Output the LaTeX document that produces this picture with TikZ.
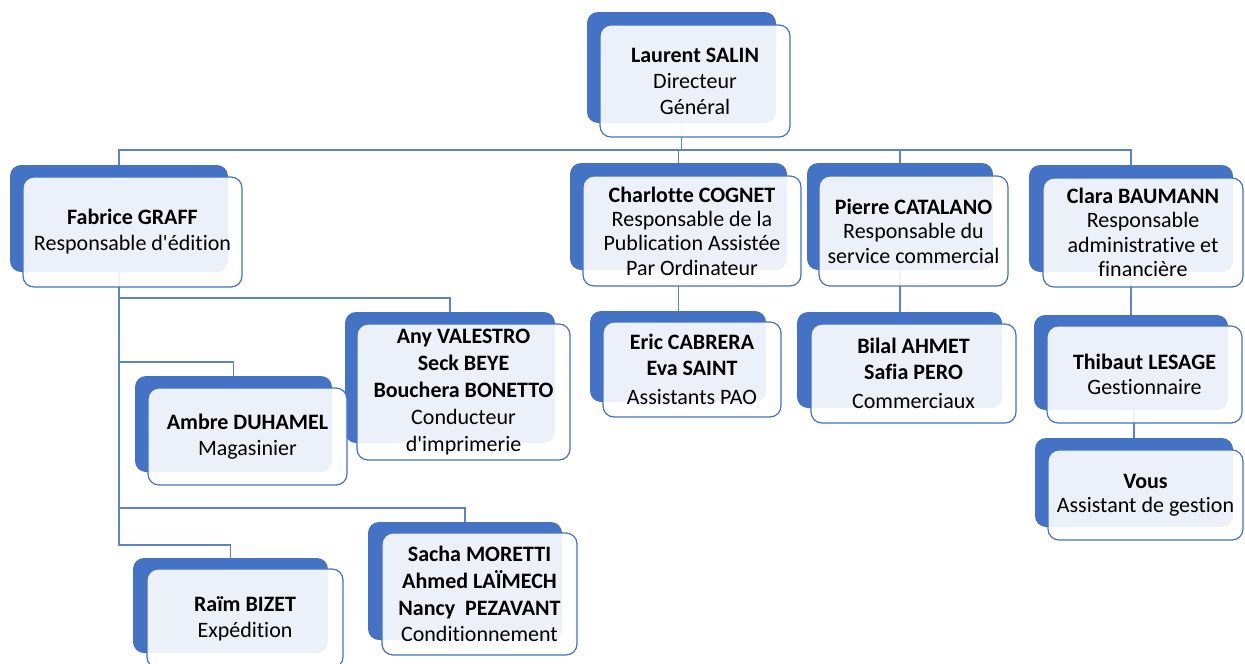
\documentclass[tikz,border=0pt]{standalone}
\usepackage{fontspec}
\newfontfamily\orgfont{Carlito}[Ligatures={NoCommon}]
\definecolor{orgblue}{HTML}{4472C4}
\definecolor{connblue}{HTML}{5B83CC}
\tikzset{
  backbox/.style={fill=orgblue, rounded corners=11pt, inner sep=0pt, outer sep=0pt},
  frontbox/.style={draw=orgblue, line width=1.2pt, fill=white, fill opacity=0.9, text opacity=1,
     rounded corners=11pt, inner sep=0pt, outer sep=0pt, align=center, text=black,
     font=\orgfont\fontsize{22}{26}\selectfont},
  tight/.style={font=\orgfont\fontsize{22}{24.4}\selectfont},
  loose/.style={font=\orgfont\fontsize{22}{26.8}\selectfont},
  conn/.style={draw=connblue, line width=1.3pt}
}
\begin{document}
\begin{tikzpicture}[x=1pt,y=-1pt]
\useasboundingbox (0,0) rectangle (1245,664);
\clip (0,0) rectangle (1245,664);
% back boxes
\node[backbox, minimum width=189pt, minimum height=111pt] (lsB) at (681.5,67.5) {};
\node[backbox, minimum width=218pt, minimum height=107pt] (fgB) at (119,218.5) {};
\node[backbox, minimum width=217pt, minimum height=107pt] (ccB) at (678.5,216.5) {};
\node[backbox, minimum width=186pt, minimum height=107pt] (pcB) at (900,216.5) {};
\node[backbox, minimum width=204pt, minimum height=107pt] (cbB) at (1131,218.5) {};
\node[backbox, minimum width=176pt, minimum height=91pt] (ecB) at (678,356.5) {};
\node[backbox, minimum width=205pt, minimum height=96pt] (baB) at (899.5,360) {};
\node[backbox, minimum width=194pt, minimum height=95pt] (tlB) at (1131,362.5) {};
\node[backbox, minimum width=198pt, minimum height=89pt] (vsB) at (1134,482.5) {};
\node[backbox, minimum width=197pt, minimum height=96pt] (adB) at (233.5,424) {};
\node[backbox, minimum width=210pt, minimum height=131pt] (avB) at (450,377.5) {};
\node[backbox, minimum width=195pt, minimum height=95pt] (rbB) at (230.5,605.5) {};
\node[backbox, minimum width=194pt, minimum height=118pt] (smB) at (465,581) {};
% connectors
\coordinate (bus) at (0,150);
\draw[conn] (lsB.south) -- (lsB.south |- bus) -| (fgB.north);
\draw[conn] (lsB.south |- bus) -| (ccB.north);
\draw[conn] (lsB.south |- bus) -| (pcB.north);
\draw[conn] (lsB.south |- bus) -| (cbB.north);
\draw[conn] (fgB.south) -- (fgB.south |- 0,298) -| (avB.north);
\draw[conn] (fgB.south) -- (fgB.south |- 0,362) -| (adB.north);
\draw[conn] (fgB.south) -- (fgB.south |- 0,508) -| (smB.north);
\draw[conn] (fgB.south) -- (fgB.south |- 0,545) -| (rbB.north);
\draw[conn] (ccB.south) -- (ccB.south |- ecB.north);
\draw[conn] (pcB.south) -- (pcB.south |- baB.north);
\draw[conn] (cbB.south) -- (cbB.south |- tlB.north);
\draw[conn] (vsB.north |- tlB.south) -- (vsB.north);
% front boxes
\node[frontbox, minimum width=190pt, minimum height=112pt] (lsF) at (695,81)
  {\textbf{Laurent SALIN}\\Directeur\\Général};
\node[frontbox, minimum width=219pt, minimum height=110pt] (fgF) at (132.5,232)
  {\textbf{Fabrice GRAFF}\\Responsable d'édition};
\node[frontbox, tight, minimum width=218pt, minimum height=110pt] (ccF) at (692,231)
  {\textbf{Charlotte COGNET}\\Responsable de la\\Publication Assistée\\Par Ordinateur};
\node[frontbox, tight, minimum width=189pt, minimum height=110pt] (pcF) at (913.5,231)
  {\textbf{Pierre CATALANO}\\Responsable du\\service commercial};
\node[frontbox, tight, minimum width=200pt, minimum height=109pt] (cbF) at (1143,232.5)
  {\textbf{Clara BAUMANN}\\Responsable\\administrative et\\financière};
\node[frontbox, minimum width=178pt, minimum height=95pt] (ecF) at (692,369.5)
  {\textbf{Eric CABRERA}\\\textbf{Eva SAINT}\\[3pt]Assistants PAO};
\node[frontbox, minimum width=205pt, minimum height=99pt] (baF) at (913.5,373.5)
  {\textbf{Bilal AHMET}\\\textbf{Safia PERO}\\[3pt]Commerciaux};
\node[frontbox, tight, minimum width=195pt, minimum height=97pt] (tlF) at (1144.5,374.5)
  {\textbf{Thibaut LESAGE}\\Gestionnaire};
\node[frontbox, tight, minimum width=195pt, minimum height=90pt] (vsF) at (1145.5,495)
  {\textbf{Vous}\\Assistant de gestion};
\node[frontbox, minimum width=199pt, minimum height=97pt] (adF) at (247.5,436.5)
  {\textbf{Ambre DUHAMEL}\\Magasinier};
\node[frontbox, loose, minimum width=213pt, minimum height=136pt] (avF) at (463.5,392)
  {\textbf{Any VALESTRO}\\\textbf{Seck BEYE}\\\textbf{Bouchera BONETTO}\\Conducteur\\d'imprimerie};
\node[frontbox, minimum width=196pt, minimum height=99pt] (rbF) at (245,618.5)
  {\textbf{Raïm BIZET}\\Expédition};
\node[frontbox, loose, minimum width=195pt, minimum height=122pt] (smF) at (479.5,594)
  {\textbf{Sacha MORETTI}\\\textbf{Ahmed LAÏMECH}\\\textbf{Nancy\ \ PEZAVANT}\\Conditionnement};
\end{tikzpicture}
\end{document}
